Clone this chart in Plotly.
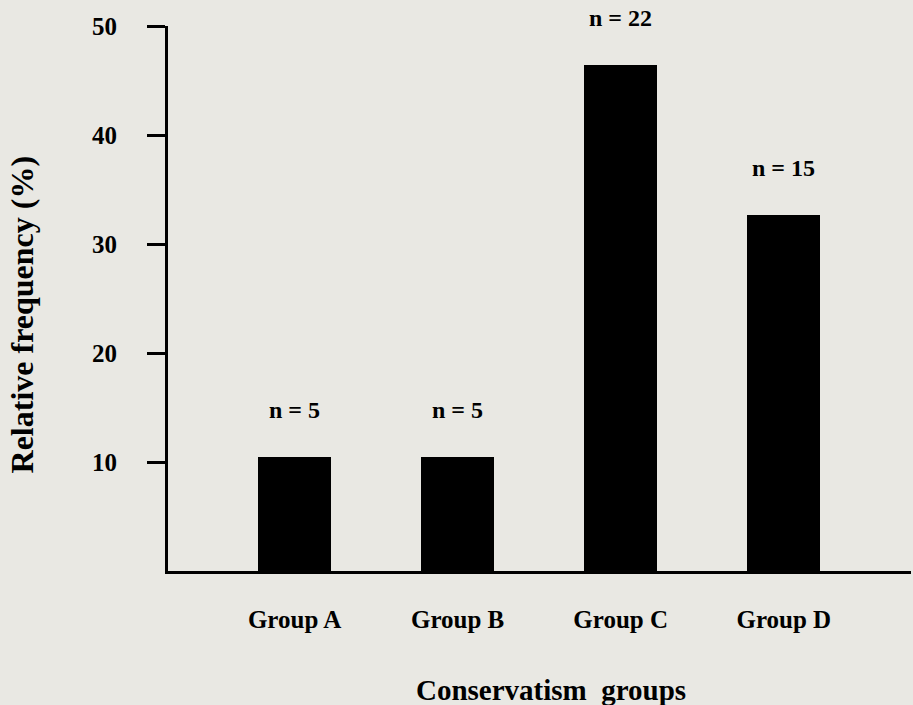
import plotly.graph_objects as go

categories = ["Group A", "Group B", "Group C", "Group D"]
values = [10.5, 10.5, 46.4, 32.7]
n_labels = ["n = 5", "n = 5", "n = 22", "n = 15"]
y_ticks = [10, 20, 30, 40, 50]

FONT = "Liberation Serif"
BG = "#e9e8e3"

x_pos = list(range(len(categories)))

fig = go.Figure()
fig.add_trace(go.Bar(
    x=x_pos, y=values, width=0.45,
    marker=dict(color="black", line=dict(width=0)),
    hoverinfo="skip",
))

for xp, v, lab in zip(x_pos, values, n_labels):
    fig.add_annotation(x=xp, y=v, text="<b>%s</b>" % lab, showarrow=False,
                       yshift=47, font=dict(family=FONT, size=24, color="black"))

fig.update_layout(
    width=913, height=705,
    margin=dict(l=168, r=2, t=26, b=134),
    paper_bgcolor=BG, plot_bgcolor=BG,
    showlegend=False,
    font=dict(family=FONT, color="black"),
    bargap=0,
)
fig.update_xaxes(
    range=[-0.776, 3.78],
    tickmode="array", tickvals=x_pos,
    ticktext=["<b>%s</b>" % c for c in categories],
    tickfont=dict(family=FONT, size=25, color="black"),
    ticks="", ticklabelstandoff=24,
    showline=True, linecolor="black", linewidth=3,
    showgrid=False, zeroline=False,
)
fig.update_yaxes(
    range=[0, 50],
    tickmode="array", tickvals=y_ticks,
    ticktext=["<b>%d</b>" % t for t in y_ticks],
    tickfont=dict(family=FONT, size=25, color="black"),
    ticks="outside", ticklen=18, tickwidth=3, tickcolor="black",
    ticklabelstandoff=25,
    showline=True, linecolor="black", linewidth=3,
    showgrid=False, zeroline=False,
)
fig.add_annotation(xref="paper", yref="paper", x=-0.197, y=0.47,
                   text="<b>Relative frequency (%)</b>", textangle=-90,
                   showarrow=False, xanchor="center", yanchor="middle",
                   font=dict(family=FONT, size=32, color="black"))
fig.add_annotation(xref="paper", yref="paper", x=0.515, y=-0.218,
                   text="<b>Conservatism\u00a0 groups</b>",
                   showarrow=False, xanchor="center", yanchor="middle",
                   font=dict(family=FONT, size=29, color="black"))

fig.write_html("out.html", config={"displayModeBar": False},
               post_script="document.body.style.margin='0px';document.body.style.overflow='hidden';")
